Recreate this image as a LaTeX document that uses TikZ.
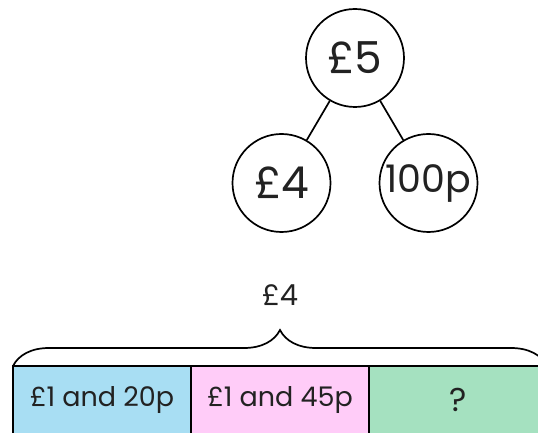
\documentclass[tikz,border=0pt]{standalone}
\usepackage{fontspec}
\setmainfont{Poppins}
\usepackage{tikz}
\usetikzlibrary{arrows}
\usetikzlibrary{calc,positioning,decorations.pathreplacing}
\definecolor{partblue}{RGB}{168,222,243}
\definecolor{partpink}{RGB}{255,204,248}
\definecolor{partgreen}{RGB}{165,225,192}
\definecolor{inkgrey}{RGB}{34,34,34}

\begin{document}
\begin{tikzpicture}[x=1pt,y=1pt,line width=1.7pt,text=inkgrey]
    \tikzstyle{money node}=[circle,draw,inner sep=0,minimum size=98pt,font=\fontsize{44}{44}\selectfont]
    \tikzstyle{part node}=[rectangle,draw,inner sep=0,outer sep=0,minimum width=178pt,minimum height=68pt,font=\fontsize{27}{27}\selectfont]
    \tikzstyle{level 1}=[level distance=125pt,sibling distance=147pt]
    \clip (0,0) rectangle (538,433);
    \node(0)[money node] at (355,375){£5}
        child{node(1)[money node]{£4}}
        child{node(2)[money node,font=\fontsize{38}{38}\selectfont]{100p}}
        [edge from parent path={(\tikzparentnode) -- (\tikzchildnode.north)}];
    \node(3)[part node,fill=partblue,anchor=north west] at (13,67){£1 and 20p};
    \node(4)[part node,fill=partpink,right=0pt of 3]{£1 and 45p};
    \node(5)[part node,fill=partgreen,right=0pt of 4,font=\fontsize{33}{33}\selectfont]{?};
    \draw[decorate,decoration={brace,amplitude=36pt}](3.north west) -- (5.north east);
    \node(6) at ($(3.north west)!.5!(5.north east) + (0,71)$)[font=\fontsize{29}{29}\selectfont]{£4};
\end{tikzpicture}
\end{document}
